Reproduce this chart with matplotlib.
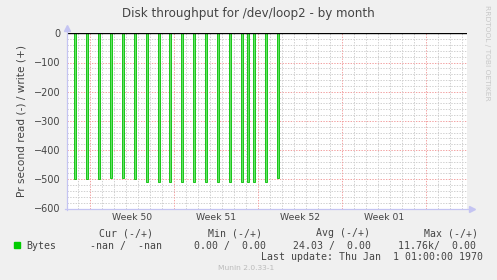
import matplotlib
matplotlib.use("Agg")
import matplotlib.pyplot as plt
from matplotlib.lines import Line2D

# days since the Monday that starts Week 50
spike_days = [-1.25, -0.25, 0.75, 1.75, 2.75, 3.75, 4.75, 5.75, 6.68, 7.67,
              8.67, 9.67, 10.67, 11.67, 12.67, 13.17, 13.67, 14.67, 15.67]
# read rate (drawn negative), bytes per second
read_values = [-500, -499, -499, -497, -494, -499, -510, -510, -510, -510,
               -510, -510, -510, -510, -510, -510, -510, -510, -496]
week_labels = ["Week 50", "Week 51", "Week 52", "Week 01"]
stat_heads = ["Cur (-/+)", "Min (-/+)", "Avg (-/+)", "Max (-/+)"]
stat_vals = ["-nan /  -nan", "0.00 /  0.00", "24.03 /  0.00", "11.76k/  0.00"]

W, H = 497, 280
fig = plt.figure(figsize=(W / 100, H / 100), dpi=100, facecolor="#f0f0f0")


def fx(x):
    return x / W


def fy(y):
    return 1 - y / H


left, right, top, bottom = 66.5, 467.5, 33.3, 208.5
ax = fig.add_axes([fx(left), fy(bottom), fx(right - left), (bottom - top) / H])
ax.set_facecolor("white")
x0 = (left - 90.3) / 12
x1 = (right - 90.3) / 12
ax.set_xlim(x0, x1)
ax.set_ylim(-600, 0)

grid_gray = "#cfcfcf"
grid_red = "#f2a0a0"
dots = (0, (1.4, 1.4))

# y grid
ax.set_yticks(range(-600, 1, 100))
for v in range(-600, 1, 20):
    if v % 100:
        ax.axhline(v, color=grid_gray, lw=0.7, ls=dots, zorder=0)
for v in range(-500, 0, 100):
    ax.axhline(v, color=grid_red, lw=0.7, ls=dots, zorder=0)

# x grid: days and week starts
for d in range(-1, 32):
    if d % 7:
        ax.axvline(d, color=grid_gray, lw=0.7, ls=dots, zorder=0)
for d in range(0, 32, 7):
    ax.axvline(d, color=grid_red, lw=0.7, ls=dots, zorder=0)

ax.set_xticks([3.5 + 7 * i for i in range(len(week_labels))])
ax.set_xticklabels(week_labels)
ax.tick_params(axis="x", length=0, pad=3.5, labelsize=6.7, labelcolor="#444444")
ax.tick_params(axis="y", which="both", length=0, pad=4.5, labelsize=7, labelcolor="#444444")

ax.bar(spike_days, read_values, width=0.17, align="center",
       color="#66e066", edgecolor="#00c000", linewidth=0.6, zorder=2)
ax.axhline(0, color="black", lw=1.0, zorder=3)

for s in ax.spines.values():
    s.set_visible(False)

# axes with arrows
axis_col = "#c4c4f2"
fig.add_artist(Line2D([fx(left), fx(left)], [fy(bottom + 1), fy(28)],
                      color=axis_col, lw=0.9, transform=fig.transFigure))
fig.add_artist(Line2D([fx(left - 2), fx(472)], [fy(bottom), fy(bottom)],
                      color=axis_col, lw=0.9, transform=fig.transFigure))
fig.add_artist(Line2D([fx(left)], [fy(28)], marker="^", ms=4, color=axis_col,
                      transform=fig.transFigure))
fig.add_artist(Line2D([fx(472)], [fy(bottom)], marker=">", ms=4, color=axis_col,
                      transform=fig.transFigure))

ax.set_ylabel("Pr second read (-) / write (+)", fontsize=7.6, color="#444444", labelpad=5)

fig.text(fx(248), fy(13.5), "Disk throughput for /dev/loop2 - by month",
         ha="center", va="center", fontsize=8.6, color="#444444")
fig.text(fx(487), fy(5), "RRDTOOL / TOBI OETIKER", rotation=270, ha="center",
         va="top", fontsize=5.4, color="#c8c8c8")

mono = dict(family="DejaVu Sans Mono", fontsize=7.1, color="#444444", va="center")
head_x = [98.7, 207.7, 316, 423.7]
val_x = [90, 194.3, 293.3, 398.3]
for hx, ht in zip(head_x, stat_heads):
    fig.text(fx(hx), fy(233), ht, ha="left", **mono)
for vx, vt in zip(val_x, stat_vals):
    fig.text(fx(vx), fy(245.7), vt, ha="left", **mono)
fig.text(fx(26.7), fy(245.7), "Bytes", ha="left", **mono)
fig.text(fx(261), fy(257.3), "Last update: Thu Jan  1 01:00:00 1970", ha="left", **mono)
fig.patches.append(plt.Rectangle((fx(14), fy(248.3)), fx(6), 6 / H, color="#00cc00",
                                 transform=fig.transFigure, figure=fig))
fig.text(fx(246), fy(268.5), "Munin 2.0.33-1", ha="center", va="center",
         fontsize=5.4, color="#bbbbbb")

fig.savefig("out.png", dpi=100, facecolor=fig.get_facecolor())
